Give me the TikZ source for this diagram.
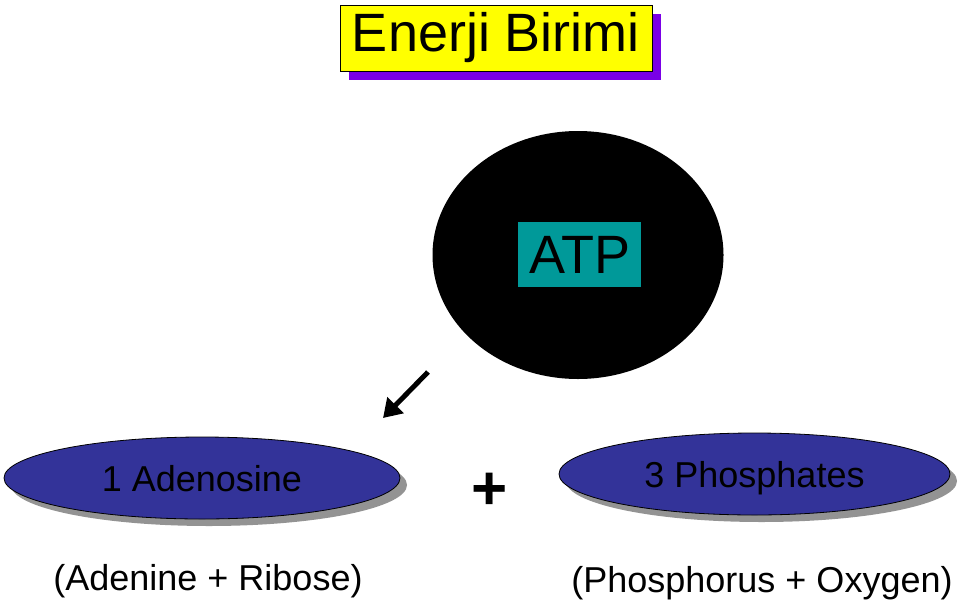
\documentclass[tikz,border=0pt]{standalone}
\usepackage{fontspec}
\setmainfont{Liberation Sans}
\usetikzlibrary{shapes.geometric,arrows.meta,positioning,shadows}
\definecolor{titleyellow}{HTML}{FFFF00}
\definecolor{titleshade}{HTML}{7A00E6}
\definecolor{atpteal}{HTML}{009999}
\definecolor{partblue}{HTML}{333399}
\tikzset{
  title style/.style={rectangle, draw, thick, fill=titleyellow, minimum width=312pt,
    minimum height=66pt, inner sep=0pt, font=\fontsize{54}{60}\selectfont,
    drop shadow={shadow xshift=9pt, shadow yshift=-9pt, fill=titleshade, opacity=1}},
  part style/.style={ellipse, draw, thick, fill=partblue, minimum width=396pt,
    minimum height=82pt, inner sep=0pt, text depth=0pt, font=\fontsize{36}{40}\selectfont,
    drop shadow={shadow xshift=7pt, shadow yshift=-7pt, fill=gray!85, opacity=1}},
  sub style/.style={font=\fontsize{36}{40}\selectfont, inner sep=0pt},
  arr style/.style={-{Triangle[length=18pt,width=22pt]}, line width=5pt}
}
\begin{document}
\begin{tikzpicture}[x=1pt, y=-1pt]
\useasboundingbox (0,0) rectangle (960,605);

\node[title style] (title) at (496,38) {Enerji Birimi};

\node[ellipse, fill=black, minimum width=291pt, minimum height=248pt] (atp) at (578,255) {};
\node[fill=atpteal, minimum width=123pt, minimum height=65pt, inner sep=0pt,
  font=\fontsize{54}{60}\selectfont] (atplbl) at (579.5,254.5) {ATP};

\coordinate (arrtail) at (428,372);
\coordinate (arrtip) at (383,418);
\draw[arr style] (arrtail)--(arrtip);

\node[part style] (aden) at (202,478) {1 Adenosine};
\node[part style, minimum width=391pt] (phos) at (754.5,474) {3 Phosphates};

\node[font=\fontsize{62}{66}\selectfont\bfseries, inner sep=0pt] (plus) at (489.5,491) {+};

\node[sub style] (adensub) at (208,581) {(Adenine + Ribose)};
\node[sub style] (phossub) at (762,583) {(Phosphorus + Oxygen)};

\end{tikzpicture}
\end{document}
